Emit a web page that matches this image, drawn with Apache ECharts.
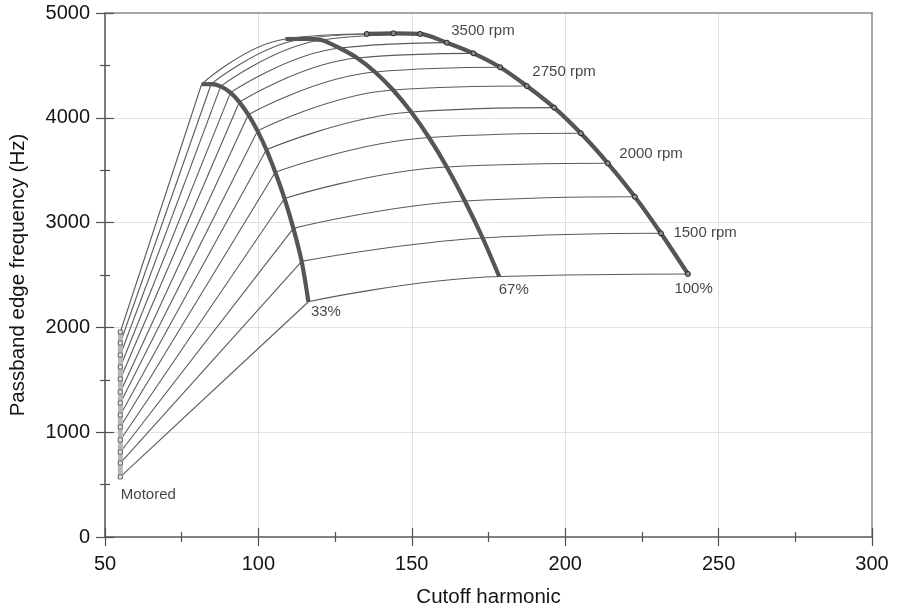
<!DOCTYPE html>
<html>
<head>
<meta charset="utf-8">
<script src="https://cdn.jsdelivr.net/npm/echarts@6/dist/echarts.min.js"></script>
<style>
  html, body { margin: 0; padding: 0; background: #fff; }
  #chart { width: 897px; height: 606px; }
</style>
</head>
<body>
<div id="chart"></div>
<script>
// Engine speeds of the constant-speed lines (rpm), lowest first
const speedsRpm = [1250, 1500, 1750, 2000, 2250, 2500, 2750, 3000, 3250, 3500, 3750, 4000, 4250];
const labelledSpeeds = [1500, 2000, 2750, 3500];

// Motored operation
const motoredHarmonic = [55, 55, 55, 55, 55, 55, 55, 55, 55, 55, 55, 55, 55];
const motoredFreq = [573, 706, 811, 926, 1050, 1164, 1279, 1384, 1508, 1622, 1737, 1851, 1956];

// 33% load
const load33Harmonic = [116.3, 114.1, 111.4, 108.5, 105.5, 102.6, 99.7, 96.7, 93.8, 90.9, 87.7, 84.6, 81.5];
const load33Freq = [2245, 2630, 2945, 3230, 3480, 3695, 3875, 4030, 4150, 4240, 4300, 4322, 4320];

// 67% load
const load67Harmonic = [178.5, 173.1, 167.3, 161.4, 155.6, 149.8, 143.9, 138.0, 132.2, 126.4, 120.5, 114.6, 108.8];
const load67Freq = [2485, 2853, 3206, 3531, 3812, 4055, 4265, 4437, 4571, 4666, 4742, 4754, 4752];

// 100% load
const load100Harmonic = [240.0, 231.2, 222.7, 213.9, 205.1, 196.4, 187.5, 178.8, 170.1, 161.4, 152.7, 144.0, 135.3];
const load100Freq = [2510, 2898, 3247, 3566, 3852, 4097, 4303, 4482, 4615, 4717, 4800, 4806, 4800];

const xTicks = { min: 50, max: 300, step: 50 };
const yTicks = { min: 0, max: 5000, step: 1000 };

const FONT = '"Liberation Sans", Arial, Helvetica, sans-serif';
const TEXT = '#141414';
const THIN = { color: '#5a5a5a', width: 1.1 };

const pairs = (xs, ys) => xs.map((x, i) => [x, ys[i]]);

// thin constant-speed lines: a straight run from motored up to 33% load,
// then a smooth sweep through 67% to full load
const speedSeries = [];
speedsRpm.forEach((rpm, i) => {
  speedSeries.push({
    name: rpm + ' rpm (light load)',
    type: 'line', symbol: 'none', silent: true, z: 2,
    lineStyle: THIN,
    data: [[motoredHarmonic[i], motoredFreq[i]], [load33Harmonic[i], load33Freq[i]]]
  });
  speedSeries.push({
    name: rpm + ' rpm',
    type: 'line', smooth: 0.45, symbol: 'none', silent: true, z: 2,
    lineStyle: THIN,
    data: [
      [load33Harmonic[i], load33Freq[i]],
      [load67Harmonic[i], load67Freq[i]],
      [load100Harmonic[i], load100Freq[i]]
    ]
  });
});

const loadCurve = (name, xs, ys, extra) => Object.assign({
  name: name,
  type: 'line',
  smooth: 0.3,
  symbol: 'none',
  silent: true,
  z: 4,
  lineStyle: { color: '#555555', width: 4.2 },
  data: pairs(xs, ys)
}, extra || {});

// text annotations anchored to curve points
const annotate = (x, y, text, dx, dy) => ({
  value: [x, y],
  label: { show: true, formatter: text, position: 'right', distance: 0, offset: [dx, dy],
           fontSize: 15, color: TEXT, fontFamily: FONT }
});
const idx = rpm => speedsRpm.indexOf(rpm);
const rpmOffsets = { 1500: [12, 0], 2000: [11, -9], 2750: [5, -14], 3500: [4, -12] };

const annotations = labelledSpeeds.map(rpm =>
  annotate(load100Harmonic[idx(rpm)], load100Freq[idx(rpm)], rpm + ' rpm', rpmOffsets[rpm][0], rpmOffsets[rpm][1])
).concat([
  annotate(load100Harmonic[0], load100Freq[0], '100%', -14, 15),
  annotate(load67Harmonic[0], load67Freq[0], '67%', -1, 13),
  annotate(load33Harmonic[0], load33Freq[0], '33%', 2, 10),
  annotate(motoredHarmonic[0], motoredFreq[0], 'Motored', 0, 18)
]);

const gridRect = { left: 105, right: 25, top: 13, bottom: 69, outerBoundsMode: 'none', containLabel: false };
const tickStyle = { color: '#505050', width: 1.2 };
const hiddenLine = { show: true, onZero: false, lineStyle: { opacity: 0 } };

const option = {
  backgroundColor: '#ffffff',
  animation: false,
  textStyle: { fontFamily: FONT },
  grid: [Object.assign({}, gridRect), Object.assign({}, gridRect)],
  xAxis: [
    {
      gridIndex: 0, type: 'value', position: 'bottom',
      min: xTicks.min, max: xTicks.max, interval: xTicks.step,
      name: 'Cutoff harmonic', nameLocation: 'middle', nameGap: 50,
      nameTextStyle: { fontSize: 20.5, color: TEXT, fontFamily: FONT },
      axisLine: { show: true, onZero: false, lineStyle: { color: '#5a5a5a', width: 1.6 } },
      axisTick: { show: true, inside: false, length: 9, lineStyle: tickStyle },
      minorTick: { show: true, splitNumber: 2, length: 5, lineStyle: tickStyle },
      splitLine: { show: true, showMinLine: false, showMaxLine: false, lineStyle: { color: '#e1e1e1', width: 1 } },
      axisLabel: { fontSize: 20, color: TEXT, margin: 17, fontFamily: FONT }
    },
    {
      gridIndex: 1, type: 'value', position: 'bottom',
      min: xTicks.min, max: xTicks.max, interval: xTicks.step,
      axisLine: hiddenLine,
      axisTick: { show: true, inside: true, length: 9, lineStyle: tickStyle },
      minorTick: { show: true, splitNumber: 2, length: 5, lineStyle: tickStyle },
      splitLine: { show: false },
      axisLabel: { show: false }
    },
    {
      gridIndex: 1, type: 'value', position: 'top',
      min: xTicks.min, max: xTicks.max, interval: xTicks.step,
      axisLine: { show: true, onZero: false, lineStyle: { color: '#8a8a8a', width: 1.5 } },
      axisTick: { show: false }, splitLine: { show: false }, axisLabel: { show: false }
    }
  ],
  yAxis: [
    {
      gridIndex: 0, type: 'value', position: 'left',
      min: yTicks.min, max: yTicks.max, interval: yTicks.step,
      name: 'Passband edge frequency (Hz)', nameLocation: 'middle', nameGap: 76,
      nameTextStyle: { fontSize: 20.5, color: TEXT, fontFamily: FONT },
      axisLine: { show: true, onZero: false, lineStyle: { color: '#5a5a5a', width: 1.6 } },
      axisTick: { show: true, inside: false, length: 9, lineStyle: tickStyle },
      minorTick: { show: true, splitNumber: 2, length: 5, lineStyle: tickStyle },
      splitLine: { show: true, showMinLine: false, showMaxLine: false, lineStyle: { color: '#e1e1e1', width: 1 } },
      axisLabel: { fontSize: 20, color: TEXT, margin: 15, fontFamily: FONT, formatter: v => String(v) }
    },
    {
      gridIndex: 1, type: 'value', position: 'left',
      min: yTicks.min, max: yTicks.max, interval: yTicks.step,
      axisLine: hiddenLine,
      axisTick: { show: true, inside: true, length: 9, lineStyle: tickStyle },
      minorTick: { show: true, splitNumber: 2, length: 5, lineStyle: tickStyle },
      splitLine: { show: false },
      axisLabel: { show: false }
    },
    {
      gridIndex: 1, type: 'value', position: 'right',
      min: yTicks.min, max: yTicks.max, interval: yTicks.step,
      axisLine: { show: true, onZero: false, lineStyle: { color: '#8a8a8a', width: 1.5 } },
      axisTick: { show: false }, splitLine: { show: false }, axisLabel: { show: false }
    }
  ],
  series: speedSeries.concat([
    loadCurve('33%', load33Harmonic, load33Freq),
    loadCurve('67%', load67Harmonic, load67Freq),
    loadCurve('100%', load100Harmonic, load100Freq, {
      symbol: 'circle', symbolSize: 5, showSymbol: true,
      itemStyle: { color: '#8a8a8a', borderColor: '#222', borderWidth: 1 }
    }),
    {
      name: 'Motored', type: 'line', silent: true, z: 3,
      symbol: 'rect', symbolSize: 4, showSymbol: true,
      lineStyle: { color: '#b8b8b8', width: 5 },
      itemStyle: { color: '#e8e8e8', borderColor: '#666', borderWidth: 1 },
      data: pairs(motoredHarmonic, motoredFreq)
    },
    {
      name: 'labels', type: 'scatter', silent: true, z: 6,
      symbolSize: 1,
      itemStyle: { color: 'rgba(0,0,0,0)' },
      data: annotations
    }
  ])
};

const chart = echarts.init(document.getElementById('chart'), null, { renderer: 'canvas' });
chart.setOption(option);
</script>
</body>
</html>
